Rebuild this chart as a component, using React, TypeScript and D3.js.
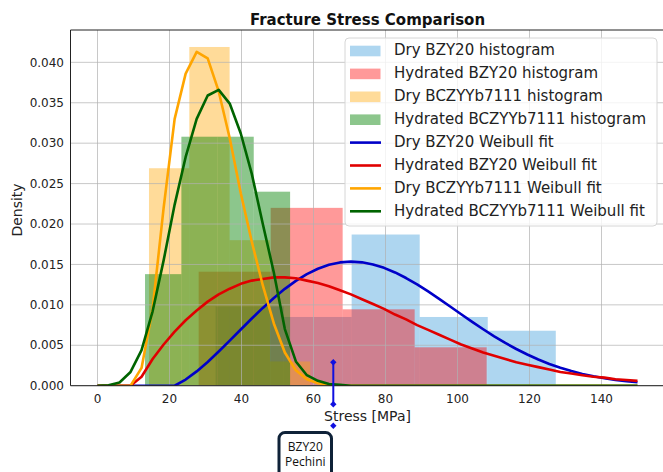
import React from "react";
import * as d3 from "d3";

// ---------- data ----------
const stressSamples = [
  0, 3.06, 6.12, 9.18, 12.24, 15.31, 18.37, 21.43, 24.49, 27.55, 30.61, 33.67, 36.73, 39.8, 42.86,
  45.92, 48.98, 52.04, 55.1, 58.16, 61.22, 64.29, 67.35, 70.41, 73.47, 76.53, 79.59, 82.65, 85.71,
  88.78, 91.84, 94.9, 97.96, 101.02, 104.08, 107.14, 110.2, 113.27, 116.33, 119.39, 122.45, 125.51,
  128.57, 131.63, 134.69, 137.76, 140.82, 143.88, 146.94, 150,
];

const dryBZY20Fit = [
  0, 0, 0, 0, 0, 0, 0, 0, 0.00076, 0.00177, 0.00294, 0.00423, 0.00557, 0.00695, 0.00831, 0.00962,
  0.01085, 0.01198, 0.01297, 0.01381, 0.01447, 0.01495, 0.01525, 0.01535, 0.01526, 0.015, 0.01458,
  0.01401, 0.01332, 0.01253, 0.01166, 0.01075, 0.0098, 0.00884, 0.00789, 0.00698, 0.00611, 0.00529,
  0.00454, 0.00386, 0.00324, 0.00269, 0.00222, 0.00181, 0.00146, 0.00116, 0.00092, 0.00072, 0.00056,
  0.00043,
];
const hydratedBZY20Fit = [
  0, 0, 0, 0, 0.0011, 0.0033, 0.0051, 0.0067, 0.0081, 0.0093, 0.0104, 0.0113, 0.012, 0.0126, 0.013,
  0.0132, 0.0134, 0.0134, 0.0133, 0.013, 0.0127, 0.0123, 0.0118, 0.0113, 0.0107, 0.0101, 0.0095,
  0.0088, 0.0082, 0.0075, 0.0069, 0.0063, 0.0057, 0.0051, 0.0046, 0.0041, 0.0037, 0.0033, 0.0029,
  0.0026, 0.0023, 0.002, 0.0017, 0.0015, 0.0013, 0.0011, 0.001, 0.0008, 0.0007, 0.0006,
];
const dryBCZYYbFit = [
  0, 0, 0, 0, 0.0022, 0.0095, 0.022, 0.033, 0.0386, 0.0413, 0.0405, 0.0364, 0.0306, 0.0238, 0.0178,
  0.0124, 0.0077, 0.0041, 0.0019, 0.0008, 0.0003, 0.0001, 0, 0, 0, 0, 0, 0, 0, 0, 0, 0, 0, 0, 0, 0,
  0, 0, 0, 0, 0, 0, 0, 0, 0, 0, 0, 0, 0, 0,
];
const hydratedBCZYYbFit = [
  0, 0.00005, 0.0004, 0.0017, 0.0044, 0.0092, 0.0155, 0.0224, 0.0283, 0.033, 0.0359, 0.0366, 0.0349,
  0.0312, 0.0262, 0.02, 0.014, 0.007, 0.003, 0.0013, 0.0006, 0.0002, 0.0001, 0, 0, 0, 0, 0, 0, 0, 0,
  0, 0, 0, 0, 0, 0, 0, 0, 0, 0, 0, 0, 0, 0, 0, 0, 0, 0, 0,
];

const dryBZY20Edges = [32.8, 51.7, 70.6, 89.5, 108.4, 127.3];
const dryBZY20Density = [0.0098, 0.0085, 0.0187, 0.0085, 0.0068];
const hydratedBZY20Edges = [28.1, 48.1, 68.1, 88.1, 108.1];
const hydratedBZY20Density = [0.0141, 0.022, 0.00945, 0.00475];
const dryBCZYYbEdges = [14.3, 25.5, 36.7, 47.9, 59.1];
const dryBCZYYbDensity = [0.0269, 0.0419, 0.018, 0.003];
const hydratedBCZYYbEdges = [13.2, 23.3, 33.3, 43.4, 53.5];
const hydratedBCZYYbDensity = [0.0138, 0.0308, 0.0308, 0.024];

const xTicks = [0, 20, 40, 60, 80, 100, 120, 140];
const yTicks = [0, 0.005, 0.01, 0.015, 0.02, 0.025, 0.03, 0.035, 0.04];

const histLabels = [
  "Dry BZY20 histogram",
  "Hydrated BZY20 histogram",
  "Dry BCZYYb7111 histogram",
  "Hydrated BCZYYb7111 histogram",
];
const fitLabels = [
  "Dry BZY20 Weibull fit",
  "Hydrated BZY20 Weibull fit",
  "Dry BCZYYb7111 Weibull fit",
  "Hydrated BCZYYb7111 Weibull fit",
];

const pechiniStress = 65.5;

// ---------- styles ----------
const histFills = ["#5dade2", "#ff0000", "#ffa500", "#008000"];
const histOpacity = [0.5, 0.4, 0.4, 0.45];
const lineColors = ["#0000c8", "#e00000", "#ffa500", "#006400"];
const FONT = "'DejaVu Sans', sans-serif";

export default function App() {
  const x = d3.scaleLinear().domain([-7.5, 157.5]).range([70.5, 664.5]);
  const y = d3.scaleLinear().domain([0, 0.044]).range([385.7, 30]);
  const plotLeft = 70.5, plotTop = 30, plotBottom = 385.7, plotRight = 664.5;

  const hists = [
    { edges: dryBZY20Edges, dens: dryBZY20Density },
    { edges: hydratedBZY20Edges, dens: hydratedBZY20Density },
    { edges: dryBCZYYbEdges, dens: dryBCZYYbDensity },
    { edges: hydratedBCZYYbEdges, dens: hydratedBCZYYbDensity },
  ];
  const fits = [dryBZY20Fit, hydratedBZY20Fit, dryBCZYYbFit, hydratedBCZYYbFit];

  const line = d3
    .line<number>()
    .x((_, i) => x(stressSamples[i]))
    .y((d) => y(d));

  const legendX = 345, legendY = 38, legendW = 312, legendH = 188;
  const rowY = (i: number) => 51 + i * 22.9;

  const diamond = d3.symbol().type(d3.symbolDiamond2).size(26);
  const px = x(pechiniStress);

  return (
    <svg
      width={663}
      height={472}
      style={{ position: "absolute", left: 0, top: 0, background: "#fff" }}
      fontFamily={FONT}
    >
      <rect x={0} y={0} width={663} height={472} fill="#fff" />
      <defs>
        <clipPath id="plotclip">
          <rect x={plotLeft} y={plotTop} width={plotRight - plotLeft} height={plotBottom - plotTop} />
        </clipPath>
      </defs>

      {/* histogram bars */}
      <g clipPath="url(#plotclip)">
        {hists.map((h, k) =>
          h.dens.map((d, i) => (
            <rect
              key={`h${k}-${i}`}
              x={x(h.edges[i])}
              y={y(d)}
              width={x(h.edges[i + 1]) - x(h.edges[i])}
              height={y(0) - y(d)}
              fill={histFills[k]}
              fillOpacity={histOpacity[k]}
            />
          ))
        )}
      </g>

      {/* grid */}
      <g stroke="#b0b0b0" strokeOpacity={0.7} strokeWidth={1}>
        {xTicks.map((t) => (
          <line key={`gx${t}`} x1={x(t)} x2={x(t)} y1={plotTop} y2={plotBottom} />
        ))}
        {yTicks.map((t) => (
          <line key={`gy${t}`} x1={plotLeft} x2={plotRight} y1={y(t)} y2={y(t)} />
        ))}
      </g>

      {/* Weibull fits */}
      <g clipPath="url(#plotclip)" fill="none" strokeWidth={2.6} strokeLinejoin="round">
        {fits.map((f, k) => (
          <path key={`f${k}`} d={line(f) || ""} stroke={lineColors[k]} />
        ))}
      </g>

      {/* spines */}
      <g stroke="#222" strokeWidth={1}>
        <line x1={plotLeft} x2={plotLeft} y1={plotTop} y2={plotBottom} />
        <line x1={plotLeft} x2={plotRight} y1={plotBottom} y2={plotBottom} />
        <line x1={plotLeft} x2={plotRight} y1={plotTop} y2={plotTop} />
      </g>

      {/* tick labels */}
      <g fontSize={12} fill="#222">
        {yTicks.map((t) => (
          <text key={`ty${t}`} x={64} y={y(t)} dy="0.35em" textAnchor="end">
            {d3.format(".3f")(t)}
          </text>
        ))}
        {xTicks.map((t) => (
          <text key={`tx${t}`} x={x(t)} y={403} textAnchor="middle">
            {t}
          </text>
        ))}
      </g>

      {/* axis labels and title */}
      <text x={(plotLeft + plotRight) / 2} y={421} textAnchor="middle" fontSize={14} fill="#222">
        Stress [MPa]
      </text>
      <text
        transform={`translate(22,210) rotate(-90)`}
        textAnchor="middle"
        fontSize={14}
        fill="#222"
      >
        Density
      </text>
      <text
        x={(plotLeft + plotRight) / 2}
        y={24.5}
        textAnchor="middle"
        fontSize={15}
        fontWeight="bold"
        fill="#111"
      >
        Fracture Stress Comparison
      </text>

      {/* legend */}
      <rect
        x={legendX}
        y={legendY}
        width={legendW}
        height={legendH}
        rx={4}
        fill="#fff"
        fillOpacity={0.8}
        stroke="#d6d6d6"
      />
      {histLabels.map((lab, i) => (
        <g key={`lh${i}`}>
          <rect
            x={350}
            y={rowY(i) - 5.3}
            width={30.5}
            height={10.6}
            fill={histFills[i]}
            fillOpacity={histOpacity[i]}
          />
          <text x={394} y={rowY(i) + 4.4} fontSize={15} fill="#222">
            {lab}
          </text>
        </g>
      ))}
      {fitLabels.map((lab, j) => {
        const i = j + 4;
        return (
          <g key={`lf${j}`}>
            <line x1={350} x2={381} y1={rowY(i)} y2={rowY(i)} stroke={lineColors[j]} strokeWidth={2.6} />
            <text x={394} y={rowY(i) + 4.4} fontSize={15} fill="#222">
              {lab}
            </text>
          </g>
        );
      })}

      {/* BZY20 Pechini annotation */}
      <g>
        <line x1={px} x2={px} y1={362.3} y2={404.3} stroke="#1010e0" strokeWidth={2} />
        {[362.3, 404.3, 425.7].map((yy) => (
          <path key={`m${yy}`} d={diamond() || ""} transform={`translate(${px},${yy})`} fill="#1010e0" />
        ))}
        <rect x={279} y={432.5} width={52.5} height={60} rx={6} fill="#fff" stroke="#0f2238" strokeWidth={3} />
        <text x={305.3} y={450.5} textAnchor="middle" fontSize={12} fontFamily="'Open Sans', sans-serif" fill="#111">
          BZY20
        </text>
        <text x={305.3} y={466} textAnchor="middle" fontSize={12} fontFamily="'Open Sans', sans-serif" fill="#111">
          Pechini
        </text>
      </g>
    </svg>
  );
}
